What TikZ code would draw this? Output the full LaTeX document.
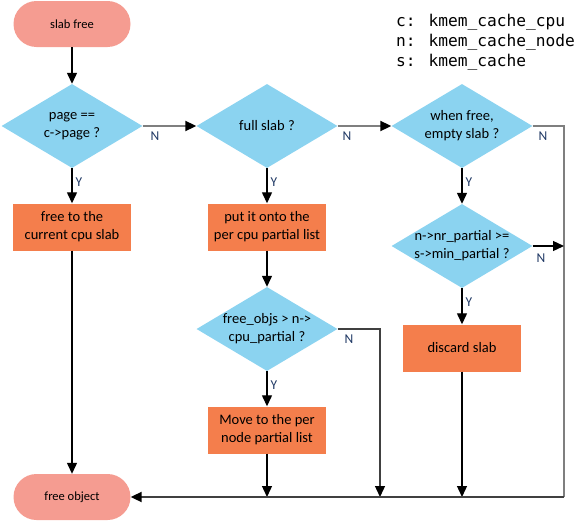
\documentclass[tikz,border=0pt]{standalone}
\usepackage{fontspec}
\setmainfont{Carlito}
\newfontfamily\legendfont{DejaVu Sans Mono}
\usetikzlibrary{shapes.geometric,arrows.meta}
\definecolor{termfill}{HTML}{F59C91}
\definecolor{diafill}{HTML}{8BD3F0}
\definecolor{boxfill}{HTML}{F47E4C}
\definecolor{lblcol}{HTML}{1F3864}
\definecolor{greyline}{HTML}{7F7F7F}
\definecolor{darkline}{HTML}{404040}
\tikzset{
  term/.style={rectangle, rounded corners=23pt, fill=termfill, minimum width=117pt, minimum height=46pt, font=\fontsize{12.5}{14}\selectfont},
  dia/.style={diamond, fill=diafill, minimum width=141pt, minimum height=84pt, inner sep=0pt},
  diatxt/.style={align=center, font=\fontsize{14.5}{18}\selectfont, inner sep=0pt},
  stepbox/.style={rectangle, fill=boxfill, minimum width=118pt, minimum height=47pt, align=center, font=\fontsize{14.5}{18}\selectfont, inner sep=0pt},
  lbl/.style={text=lblcol, font=\fontsize{13.5}{14}\selectfont, inner sep=0pt},
  tip/.style={-{Triangle[length=11pt,width=10pt,color=black]}},
  arr/.style={tip, line width=1.3pt, black},
  garr/.style={line width=2pt, greyline},
  legend/.style={anchor=base west, font=\legendfont\fontsize{16.2}{20}\selectfont, inner sep=0pt}
}
\begin{document}
\begin{tikzpicture}[x=1pt,y=-1pt]
\useasboundingbox (0,0) rectangle (584,522);
% terminators
\node[term] (start) at (72,24) {slab free};
\node[term] (fo) at (72,497) {free object};
% diamonds
\node[dia] (d1) at (72,126) {};
\node[diatxt] (t1) at (d1) {page ==\\c->page ?};
\node[dia] (d2) at (267,126) {};
\node[diatxt] (t2) at (d2) {full slab ?};
\node[dia] (d3) at (462,126) {};
\node[diatxt] (t3) at (d3) {when free,\\empty slab ?};
\node[dia] (d4) at (462,246) {};
\node[diatxt] (t4) at (d4) {n->nr\_partial >=\\s->min\_partial ?};
\node[dia] (d5) at (267,329) {};
\node[diatxt] (t5) at (d5) {free\_objs > n->\\cpu\_partial ?};
% boxes
\node[stepbox] (b1) at (72,227) {free to the\\current cpu slab};
\node[stepbox] (b2) at (267,227) {put it onto the\\per cpu partial list};
\node[stepbox] (b3) at (267,430) {Move to the per\\node partial list};
\node[stepbox] (b4) at (462,348) {discard slab};
% legend
\node[legend] (l1) at (396,26) {c: kmem\_cache\_cpu};
\node[legend] (l2) at (396,46) {n: kmem\_cache\_node};
\node[legend] (l3) at (396,66) {s: kmem\_cache};
% coordinates
\coordinate (rc) at (564,497);
\coordinate (rt) at (564,126);
\coordinate (r4) at (564,246);
\coordinate (m5) at (380,329);
\coordinate (j5) at (380,497);
\coordinate (j3) at (267,497);
\coordinate (j4) at (462,497);
% connectors
\draw[arr] (start) -- (d1);
\draw[arr] (d1) -- (b1);
\draw[arr] (b1) -- (fo);
\draw[garr, tip] (d1.east) -- (d2.west);
\draw[garr, tip] (d2.east) -- (d3.west);
\draw[arr] (d2) -- (b2);
\draw[arr] (b2) -- (d5);
\draw[arr] (d5) -- (b3);
\draw[arr] (b3) -- (j3);
\draw[arr] (d3) -- (d4);
\draw[arr] (d4) -- (b4);
\draw[arr] (b4) -- (j4);
\draw[garr] (d3.east) -- (rt) -- (rc);
\draw[arr] (d4.east) -- (r4);
\draw[arr, darkline] (d5.east) -- (m5) -- (j5);
\draw[line width=2pt, darkline, tip] (rc) -- (fo.east);
% labels
\node[lbl] (n1) at (155,136) {N};
\node[lbl] (n2) at (347,136) {N};
\node[lbl] (n3) at (543,136) {N};
\node[lbl] (n4) at (541,258) {N};
\node[lbl] (n5) at (349,339) {N};
\node[lbl] (y1) at (79,182) {Y};
\node[lbl] (y2) at (274,182) {Y};
\node[lbl] (y3) at (469,182) {Y};
\node[lbl] (y4) at (469,302) {Y};
\node[lbl] (y5) at (274,385) {Y};
\end{tikzpicture}
\end{document}
